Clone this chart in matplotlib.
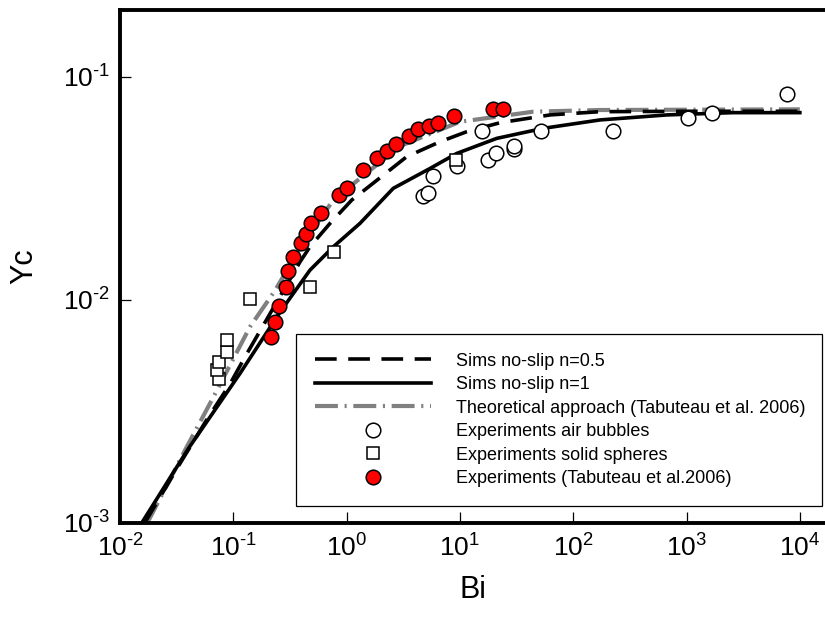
import math
import matplotlib
matplotlib.use("Agg")
from matplotlib import pyplot as plt
from matplotlib.ticker import FixedLocator, NullLocator, FuncFormatter

plt.rcParams["font.family"] = ["Liberation Sans", "DejaVu Sans"]
plt.rcParams["mathtext.fontset"] = "custom"
plt.rcParams["mathtext.rm"] = "Liberation Sans"
plt.rcParams["mathtext.it"] = "Liberation Sans:italic"
plt.rcParams["mathtext.bf"] = "Liberation Sans:bold"
plt.rcParams["axes.unicode_minus"] = False

# ---- simulations, no-slip, n=0.5
bi_n05 = [0.0165, 0.0339, 0.0582, 0.0936, 0.1268, 0.388, 0.475, 0.713, 1.11,
          2.11, 3.39, 6.67, 11.5, 22.6, 62.4, 172, 1000, 10000]
yc_n05 = [0.001, 0.00185, 0.0029, 0.0042, 0.00555, 0.0148, 0.0173, 0.0220, 0.0280,
          0.0362, 0.0438, 0.0511, 0.0567, 0.0622, 0.0674, 0.0697, 0.0700, 0.0700]

# ---- simulations, no-slip, n=1
bi_n1 = [0.01554, 0.040, 0.1146, 0.258, 0.475, 0.763, 1.31, 2.58,
         5.45, 9.37, 21.1, 54.5, 172, 669, 2570, 10000]
yc_n1 = [0.001, 0.00215, 0.00468, 0.0088, 0.01359, 0.01729, 0.0220, 0.0316,
         0.0388, 0.0453, 0.0529, 0.0587, 0.0640, 0.0674, 0.0690, 0.0690]

# ---- theoretical approach (Tabuteau et al. 2006)
bi_theo = [0.0174, 0.0388, 0.0622, 0.1404, 0.233, 0.40, 0.763, 1.31, 3.0,
           10.0, 44.5, 172, 10000]
yc_theo = [0.001, 0.00219, 0.00343, 0.00757, 0.0110, 0.0175, 0.0280, 0.0350, 0.0490,
           0.0628, 0.0697, 0.0709, 0.0714]

# ---- experiments, air bubbles
bi_bub = [4.75, 5.20, 5.82, 9.37, 15.6, 17.8, 20.7, 30.2, 30.0, 52.3, 223,
          1038, 1668, 7660]
yc_bub = [0.0292, 0.0302, 0.0359, 0.0398, 0.0573, 0.0423, 0.0456, 0.0472, 0.0489,
          0.0573, 0.0573, 0.0653, 0.0690, 0.0836]

# ---- experiments, solid spheres
bi_sph = [0.0752, 0.0722, 0.0752, 0.0885, 0.0875, 0.1404, 0.475, 0.769, 9.24]
yc_sph = [0.00441, 0.00487, 0.00527, 0.00585, 0.00659, 0.01007, 0.01137, 0.01641,
          0.04229]

# ---- experiments, Tabuteau et al. 2006
bi_tab = [0.215, 0.233, 0.252, 0.290, 0.306, 0.336, 0.394, 0.435, 0.482, 0.598,
          0.862, 1.00, 1.39, 1.84, 2.27, 2.71, 3.56, 4.30, 5.31, 6.41, 8.87,
          19.4, 23.9]
yc_tab = [0.00682, 0.00792, 0.00940, 0.01144, 0.01349, 0.01559, 0.01790, 0.01971,
          0.02202, 0.02439, 0.02948, 0.03159, 0.03817, 0.04319, 0.04628, 0.04991,
          0.05421, 0.05825, 0.06010, 0.06180, 0.06666, 0.07164, 0.07164]

x_ticks = [1e-2, 1e-1, 1e0, 1e1, 1e2, 1e3, 1e4]
y_ticks = [1e-3, 1e-2, 1e-1]


def decade_label(value, pos):
    # plain hyphen in the exponent, like the original figure
    exp = int(round(math.log10(value)))
    return "$\\mathregular{10^{\\text{%d}}}$" % exp


if __name__ == "__main__":
    fig = plt.figure(figsize=(8.25, 6.23), dpi=100)
    ax = fig.add_axes([120 / 825, 100 / 623, 705 / 825, 513 / 623])

    ax.plot(bi_n05, yc_n05, color="black", lw=2.6, dashes=(6, 3.2),
            label="Sims no-slip n=0.5", zorder=3)
    ax.plot(bi_n1, yc_n1, color="black", lw=2.6, label="Sims no-slip n=1", zorder=3)
    ax.plot(bi_theo, yc_theo, color="#808080", lw=3.0, dashes=(5.5, 1.6, 0.5, 1.6),
            label="Theoretical approach (Tabuteau et al. 2006)", zorder=2)
    ax.plot(bi_bub, yc_bub, ls="none", marker="o", ms=10.5, mfc="white", mec="black",
            mew=1.1, label="Experiments air bubbles", zorder=4)
    ax.plot(bi_sph, yc_sph, ls="none", marker="s", ms=9, mfc="white", mec="black",
            mew=1.1, label="Experiments solid spheres", zorder=5)
    ax.plot(bi_tab, yc_tab, ls="none", marker="o", ms=10.5, mfc="red", mec="black",
            mew=1.1, label="Experiments (Tabuteau et al.2006)", zorder=6)

    ax.set_xscale("log")
    ax.set_yscale("log")
    ax.set_xlim(1e-2, 10 ** 4.222)
    ax.set_ylim(1e-3, 0.199)
    ax.xaxis.set_major_locator(FixedLocator(x_ticks))
    ax.yaxis.set_major_locator(FixedLocator(y_ticks))
    ax.xaxis.set_minor_locator(NullLocator())
    ax.yaxis.set_minor_locator(NullLocator())
    ax.xaxis.set_major_formatter(FuncFormatter(decade_label))
    ax.yaxis.set_major_formatter(FuncFormatter(decade_label))
    ax.tick_params(direction="in", length=8, width=0.9, labelsize=19, pad=8)
    ax.tick_params(axis="y", pad=7)

    for side in ["left", "bottom", "top"]:
        ax.spines[side].set_linewidth(2.8)
    ax.spines["right"].set_visible(False)

    ax.set_xlabel("Bi", fontsize=22, labelpad=10)
    ax.set_ylabel("Yc", fontsize=22, labelpad=17)

    leg = ax.legend(loc="lower left", bbox_to_anchor=(0.25, 0.033, 0.746, 0.333),
                    mode="expand", borderaxespad=0, fontsize=13, handlelength=6.4,
                    handletextpad=1.4, labelspacing=0.36, borderpad=1.05,
                    fancybox=False, framealpha=1, edgecolor="black")
    leg.get_frame().set_linewidth(0.9)

    fig.savefig("out.png", dpi=100)
